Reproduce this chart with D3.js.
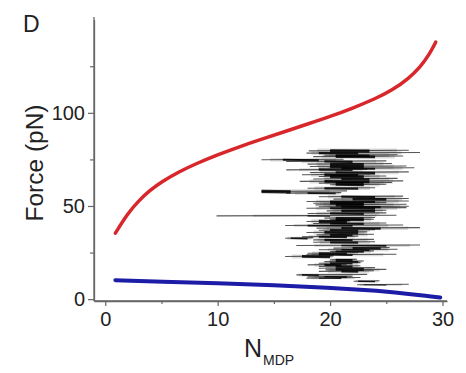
<!DOCTYPE html>
<html>
<head>
<meta charset="utf-8">
<script src="https://cdn.jsdelivr.net/npm/d3@7"></script>
<style>
  html, body { margin: 0; padding: 0; background: #fff; }
  svg { display: block; font-family: "Liberation Sans", Arial, sans-serif; }
</style>
</head>
<body>
<svg id="chart" width="466" height="373"></svg>
<script>
// ---- data ----
const xMajorTicks = [0, 10, 20, 30];
const xMinorTicks = [5, 15, 25];
const yMajorTicks = [0, 50, 100];
const yMinorTicks = [25, 75, 125];

// red curve (upper bound)
const redN = [0.9, 2, 3, 4, 5, 6.6, 8, 10, 12, 14, 16, 18, 20, 22, 24, 25.5, 27, 28, 28.8, 29.4];
const redF = [35.4, 46, 53, 58.5, 63, 68.5, 72.5, 77.5, 82, 86, 90, 94, 98, 102.5, 107.5, 112, 118.5, 124.5, 131, 138];

// blue curve (lower bound)
const blueN = [0.9, 5, 10, 15, 20, 23.3, 25, 27.1, 28.5, 29.8];
const blueF = [10.2, 9.4, 8.5, 7.5, 6.0, 4.8, 4.0, 2.7, 1.9, 0.9];

// simulated traces: force, nStart, nEnd, coreStart, coreEnd, coreWeight
const traceForce = [79.6, 78.4, 77.2, 76.5, 74.8, 73.9, 72.5, 71.2, 70.2, 69.4, 68.0, 66.8, 65.8, 64.5, 63.2, 62.3, 61.4, 59.5, 57.8, 56.9, 55.0, 53.7, 52.4, 51.5, 50.6, 49.6, 48.8, 47.4, 46.0, 44.7, 43.5, 42.6, 41.7, 40.6, 39.5, 38.1, 37.0, 35.8, 34.5, 33.5, 32.7, 31.8, 30.5, 28.8, 27.4, 26.5, 25.6, 24.6, 23.8, 22.9, 21.1, 20.2, 19.3, 18.4, 17.6, 16.6, 15.7, 14.9, 13.0, 12.0, 11.3, 9.6, 7.7];
const traceStart = [18.1, 17.9, 19.5, 18.5, 13.9, 16.1, 18.0, 18.2, 19.0, 16.1, 18.2, 17.5, 19.0, 18.5, 17.3, 19.0, 20.0, 18.0, 13.9, 16.1, 19.0, 20.3, 17.9, 18.5, 18.7, 19.0, 17.9, 19.7, 18.0, 9.9, 19.5, 20.0, 17.9, 18.5, 16.0, 18.8, 19.0, 17.9, 18.8, 17.5, 16.0, 18.5, 18.5, 17.0, 20.3, 19.0, 20.0, 18.0, 17.9, 16.0, 20.0, 19.5, 19.0, 18.0, 19.0, 19.0, 19.6, 19.0, 17.0, 18.0, 17.9, 22.1, 22.4];
const traceEnd = [27.0, 28.0, 26.0, 26.5, 21.2, 25.0, 25.5, 26.8, 27.5, 23.3, 27.0, 24.0, 25.0, 26.0, 26.5, 25.5, 25.0, 24.0, 21.5, 21.0, 26.5, 27.0, 27.0, 25.0, 26.8, 27.0, 26.8, 25.0, 25.0, 25.9, 24.0, 23.9, 21.8, 25.0, 26.5, 28.0, 24.0, 23.3, 23.9, 22.5, 18.5, 23.9, 24.0, 28.0, 25.3, 26.0, 23.9, 22.5, 25.9, 20.3, 22.4, 23.0, 22.7, 21.5, 22.7, 24.0, 25.0, 23.9, 23.3, 22.0, 22.7, 24.4, 27.0];
const coreStart = [20.0, 19.0, 20.5, 20.5, 15.8, 19.5, 20.0, 20.0, 21.0, 19.0, 20.5, 19.5, 20.0, 21.0, 19.5, 20.5, 20.5, 19.5, 13.9, 18.0, 21.0, 22.0, 20.0, 20.0, 20.5, 21.0, 20.0, 21.0, 20.0, 18.0, 20.5, 20.5, 19.0, 20.0, 18.0, 21.0, 20.0, 19.5, 20.0, 19.0, 16.5, 19.5, 20.0, 21.0, 22.0, 21.0, 20.5, 19.0, 19.0, 17.5, 20.5, 20.5, 20.0, 19.5, 20.5, 20.5, 20.5, 21.0, 17.5, 19.5, 19.0, 22.5, 23.0];
const coreEnd = [23.5, 22.5, 23.5, 24.0, 19.0, 22.0, 23.0, 23.0, 24.0, 22.0, 24.0, 22.5, 23.0, 23.5, 23.5, 23.0, 23.0, 22.5, 16.5, 20.5, 24.0, 25.0, 24.0, 23.0, 23.0, 24.5, 24.0, 24.0, 23.0, 20.0, 23.0, 23.0, 21.5, 23.0, 22.0, 24.5, 22.5, 22.5, 22.0, 21.5, 18.0, 22.0, 22.5, 25.0, 24.5, 23.5, 23.0, 21.5, 22.0, 20.0, 22.0, 22.5, 22.0, 21.0, 22.0, 23.0, 23.0, 22.5, 19.0, 21.5, 21.0, 24.0, 25.0];
const coreWeight = [3, 2, 2, 2.5, 1.8, 2, 2.5, 3, 2, 1.5, 2, 2.5, 3, 2, 2.5, 2, 2, 2, 3, 1.5, 2, 2.5, 2, 2.5, 3, 2, 2, 2.5, 2, 1, 2, 2, 3, 2, 1.5, 2, 2, 2.5, 2, 2, 1.5, 2, 2, 1.5, 2, 1.5, 1.5, 2, 1.5, 2.5, 2, 1.5, 1.5, 2, 2, 1.5, 1.5, 2, 1.5, 1.5, 1, 1.2, 0.8];

// ---- chart ----
const svg = d3.select("#chart");
const x = d3.scaleLinear().domain([-1, 30.4]).range([94, 447]);
const y = d3.scaleLinear().domain([-1, 150]).range([301, 19.7]);
const axisColor = "#666";
const textColor = "#222";

// traces
const traces = traceForce.map((f, i) => ({
  f, s: traceStart[i], e: traceEnd[i], cs: coreStart[i], ce: coreEnd[i], w: coreWeight[i]
}));
const tg = svg.append("g");
// soft halo
tg.selectAll("line.halo").data(traces).enter().append("line")
  .attr("x1", d => x(d.s + (d.cs - d.s) * 0.4)).attr("x2", d => x(d.e - (d.e - d.ce) * 0.3))
  .attr("y1", d => y(d.f)).attr("y2", d => y(d.f))
  .attr("stroke", "#666").attr("stroke-opacity", 0.22).attr("stroke-width", d => d.w + 1.5);
tg.selectAll("line.thin").data(traces).enter().append("line")
  .attr("x1", d => x(d.s)).attr("x2", d => x(d.e))
  .attr("y1", d => y(d.f)).attr("y2", d => y(d.f + 0.3))
  .attr("stroke", "#111").attr("stroke-opacity", 0.7).attr("stroke-width", 1.1);
tg.selectAll("line.core").data(traces).enter().append("line")
  .attr("x1", d => x(d.cs)).attr("x2", d => x(d.ce))
  .attr("y1", d => y(d.f)).attr("y2", d => y(d.f - 0.2))
  .attr("stroke", "#000").attr("stroke-opacity", 0.85).attr("stroke-width", d => d.w * 1.1);

// curves
const line = d3.line().x(d => x(d[0])).y(d => y(d[1])).curve(d3.curveBasis);
svg.append("path")
  .datum(redN.map((n, i) => [n, redF[i]]))
  .attr("d", line).attr("fill", "none")
  .attr("stroke", "#d8262b").attr("stroke-width", 3.5).attr("stroke-linecap", "round");
svg.append("path")
  .datum(blueN.map((n, i) => [n, blueF[i]]))
  .attr("d", line).attr("fill", "none")
  .attr("stroke", "#1c1ca6").attr("stroke-width", 4).attr("stroke-linecap", "round");

// axes
const xAxisG = svg.append("g").attr("transform", "translate(0,301)");
xAxisG.call(d3.axisBottom(x).tickValues(xMajorTicks).tickSize(5).tickSizeOuter(0).tickPadding(6));
const xMinor = svg.append("g").attr("transform", "translate(0,301)");
xMinor.call(d3.axisBottom(x).tickValues(xMinorTicks).tickSize(3).tickSizeOuter(0).tickFormat(""));
const yAxisG = svg.append("g").attr("transform", "translate(94,0)");
yAxisG.call(d3.axisLeft(y).tickValues(yMajorTicks).tickSize(6).tickSizeOuter(0).tickPadding(3));
const yMinor = svg.append("g").attr("transform", "translate(94,0)");
yMinor.call(d3.axisLeft(y).tickValues(yMinorTicks).tickSize(4).tickSizeOuter(0).tickFormat(""));

svg.selectAll(".domain").attr("stroke", axisColor).attr("stroke-width", 1.3);
svg.selectAll(".tick line").attr("stroke", axisColor).attr("stroke-width", 1.2);
svg.selectAll(".tick text").attr("fill", textColor).attr("font-size", 20)
  .attr("font-family", "'Liberation Sans', Arial, sans-serif");
// extend domain lines
xAxisG.select(".domain").attr("d", `M94,0H447`);
yAxisG.select(".domain").attr("d", `M0,17V301`);

// titles
svg.append("text").attr("x", 23).attr("y", 32).attr("font-size", 23).attr("fill", textColor).text("D");
svg.append("text")
  .attr("transform", "translate(43,163) rotate(-90)")
  .attr("text-anchor", "middle").attr("font-size", 23).attr("fill", textColor)
  .attr("textLength", 117).attr("lengthAdjust", "spacingAndGlyphs")
  .text("Force (pN)");
const xt = svg.append("text").attr("x", 244).attr("y", 357).attr("fill", textColor);
xt.append("tspan").attr("font-size", 25).text("N");
xt.append("tspan").attr("font-size", 14).attr("dy", 8).attr("dx", 1).text("MDP");
</script>
</body>
</html>
